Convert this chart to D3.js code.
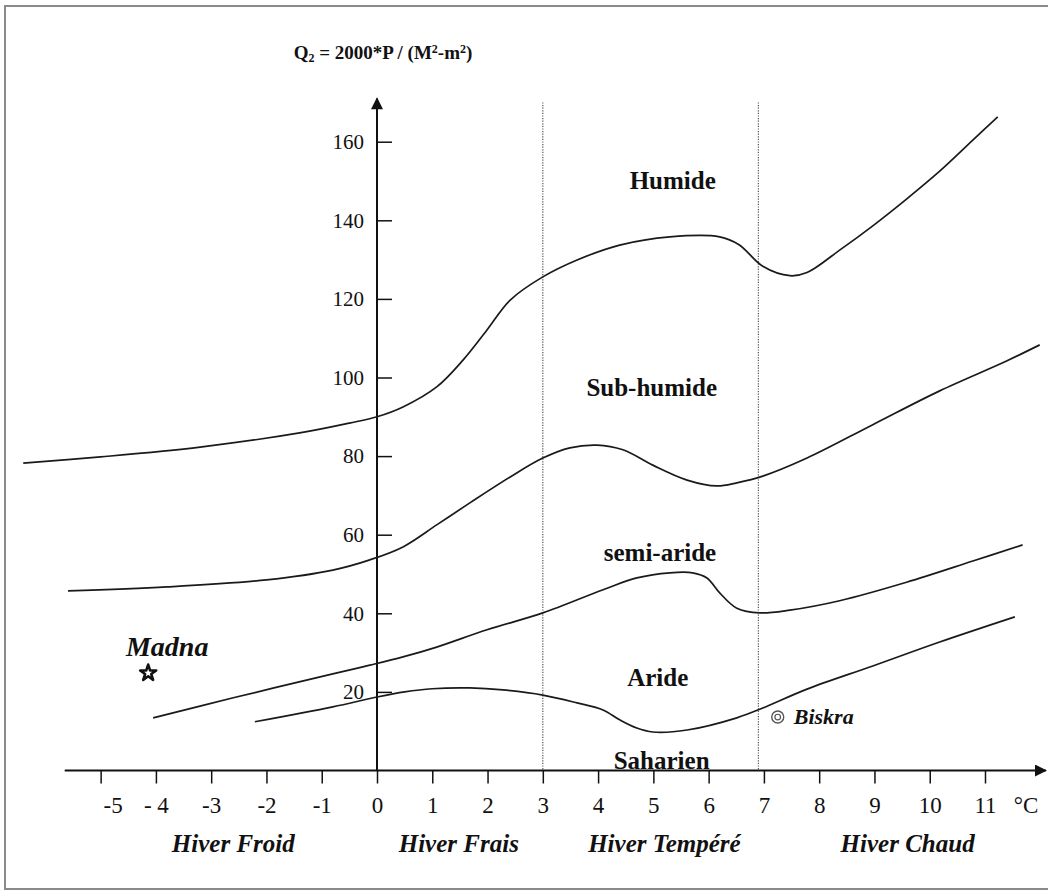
<!DOCTYPE html>
<html>
<head>
<meta charset="utf-8">
<script src="https://cdn.jsdelivr.net/npm/d3@7"></script>
<style>
  body { margin: 0; background: #fff; }
  svg { display: block; }
  text { font-family: "Liberation Serif", "Times New Roman", serif; fill: #111; }
</style>
</head>
<body>
<svg id="chart" width="1048" height="892"></svg>
<script>
// Emberger climagram: Q2 against m (mean minimum of the coldest month, °C)

const xTickValues = [-5, -4, -3, -2, -1, 0, 1, 2, 3, 4, 5, 6, 7, 8, 9, 10, 11];
const xTickLabels = ["-5", "- 4", "-3", "-2", "-1", "0", "1", "2", "3", "4", "5", "6", "7", "8", "9", "10", "11"];
const yTickValues = [20, 40, 60, 80, 100, 120, 140, 160];

// winter-type boundaries (dotted verticals)
const winterBounds = [3, 6.9];
const seasonNames = ["Hiver Froid", "Hiver Frais", "Hiver Tempéré", "Hiver Chaud"];
const seasonCenters = [-2.6, 1.48, 5.2, 9.6];

// bioclimatic stage boundaries: [m (°C), Q2]
const humideLimit = [
  [-6.4, 78.2], [-5.0, 79.8], [-3.2, 82.3], [-1.4, 85.9], [-0.5, 88.4], [0, 90.0],
  [0.47, 92.5], [1.08, 97.6], [1.56, 104.5], [1.99, 112.1], [2.41, 119.7], [3.0, 125.6],
  [3.62, 129.9], [4.39, 133.7], [5.3, 135.8], [6.2, 135.8], [6.55, 133.8], [6.98, 128.3],
  [7.47, 125.9], [7.78, 126.7], [8.37, 132.4], [8.97, 138.6], [9.58, 145.4], [10.18, 152.5],
  [10.78, 160.4], [11.23, 166.3]
];
const subHumideLimit = [
  [-5.59, 45.7], [-3.8, 46.7], [-2.0, 48.5], [-0.8, 51.0], [-0.13, 53.6], [0.47, 56.9],
  [1.08, 62.5], [1.68, 68.1], [2.41, 74.7], [3.0, 79.5], [3.49, 82.1], [3.98, 82.8],
  [4.45, 81.6], [4.99, 77.7], [5.61, 73.9], [6.15, 72.4], [6.51, 73.2], [6.98, 74.9],
  [7.78, 79.5], [8.97, 88.0], [10.18, 96.6], [11.39, 104.2], [11.99, 108.3]
];
const semiArideLimit = [
  [-4.05, 13.4], [-2.6, 18.5], [-0.8, 24.6], [-0.13, 26.8], [0.47, 28.9], [1.08, 31.4],
  [1.99, 35.8], [3.0, 40.1], [4.09, 46.0], [4.7, 49.0], [5.3, 50.3], [5.71, 50.3],
  [5.97, 49.0], [6.2, 45.2], [6.51, 41.3], [6.93, 40.1], [7.47, 40.8], [8.37, 43.2],
  [9.58, 47.9], [10.78, 53.3], [11.68, 57.4]
];
const arideLimit = [
  [-2.21, 12.4], [-0.8, 16.2], [0, 18.7], [0.5, 20.0], [1.0, 20.8], [1.68, 21.0], [2.28, 20.5],
  [3.0, 19.2], [3.62, 17.2], [4.09, 15.4], [4.39, 12.9], [4.7, 10.8], [4.99, 9.8],
  [5.61, 10.3], [6.51, 13.4], [6.98, 15.9], [7.78, 20.7], [8.97, 26.6], [10.18, 32.7],
  [11.54, 39.1]
];

const zoneNames = ["Humide", "Sub-humide", "semi-aride", "Aride", "Saharien"];
const zoneAnchors = [[5.35, 150.3], [4.97, 97.6], [5.12, 55.6], [5.08, 23.8], [5.15, 2.7]];

// stations
const stationNames = ["Madna", "Biskra"];
const stationPoints = [[-4.14, 24.8], [7.25, 13.6]];

const svg = d3.select("#chart");

const x = d3.scaleLinear().domain([0, 11]).range([377, 985]);
const y = d3.scaleLinear().domain([0, 160]).range([770.5, 141.7]);

// frame
svg.append("rect")
  .attr("x", 5).attr("y", 6).attr("width", 1060).attr("height", 883)
  .attr("fill", "none").attr("stroke", "#8a8a8a").attr("stroke-width", 2);

// dotted winter-type separators
svg.selectAll("line.bound").data(winterBounds).join("line")
  .attr("class", "bound")
  .attr("x1", d => x(d)).attr("x2", d => x(d))
  .attr("y1", y(170)).attr("y2", y(0))
  .attr("stroke", "#555").attr("stroke-width", 1.2)
  .attr("stroke-dasharray", "1.2,1.4");

// arrow heads
const defs = svg.append("defs");
defs.append("marker")
  .attr("id", "arrow").attr("viewBox", "0 0 10 10")
  .attr("refX", 9).attr("refY", 5)
  .attr("markerWidth", 7).attr("markerHeight", 6)
  .attr("markerUnits", "strokeWidth")
  .attr("orient", "auto")
  .append("path").attr("d", "M0,0 L10,5 L0,10 Z").attr("fill", "#111");

// x axis
const xAxisG = svg.append("g").attr("transform", `translate(0,${y(0)})`);
xAxisG.append("line")
  .attr("x1", x(-5.65)).attr("x2", x(12.1))
  .attr("y1", 0).attr("y2", 0)
  .attr("stroke", "#111").attr("stroke-width", 2)
  .attr("marker-end", "url(#arrow)");
const xAxis = d3.axisBottom(x)
  .tickValues(xTickValues)
  .tickFormat((d, i) => xTickLabels[i])
  .tickSize(13).tickPadding(13);
xAxisG.append("g").call(xAxis)
  .call(g => g.select(".domain").remove())
  .call(g => g.selectAll(".tick line").attr("stroke", "#111").attr("stroke-width", 1.5))
  .call(g => g.selectAll(".tick text")
    .attr("font-family", "Liberation Serif, serif")
    .attr("font-size", 23).attr("fill", "#111")
    .attr("dx", d => d === -5 ? 12 : 0));
xAxisG.append("text")
  .attr("x", 1026).attr("y", 42)
  .attr("text-anchor", "middle").attr("font-size", 23)
  .text("°C");

// y axis
const yAxisG = svg.append("g").attr("transform", `translate(${x(0)},0)`);
yAxisG.append("line")
  .attr("x1", 0).attr("x2", 0)
  .attr("y1", y(0)).attr("y2", y(171))
  .attr("stroke", "#111").attr("stroke-width", 2)
  .attr("marker-end", "url(#arrow)");
const yAxis = d3.axisRight(y).tickValues(yTickValues).tickSize(15).tickFormat(d3.format("d"));
yAxisG.append("g").call(yAxis)
  .call(g => g.select(".domain").remove())
  .call(g => g.selectAll(".tick line").attr("stroke", "#111").attr("stroke-width", 1.5))
  .call(g => g.selectAll(".tick text")
    .attr("x", -13).attr("text-anchor", "end")
    .attr("font-family", "Liberation Serif, serif")
    .attr("font-size", 21).attr("fill", "#111"));

// axis title
const title = svg.append("text")
  .attr("x", x(0) + 6).attr("y", 59)
  .attr("text-anchor", "middle")
  .attr("font-size", 19).attr("font-weight", "bold");
title.append("tspan").text("Q");
title.append("tspan").attr("font-size", 12).attr("dy", 3).text("2");
title.append("tspan").attr("dy", -3).text(" = 2000*P / (M");
title.append("tspan").attr("font-size", 12).attr("dy", -6).text("2");
title.append("tspan").attr("dy", 6).text("-m");
title.append("tspan").attr("font-size", 12).attr("dy", -6).text("2");
title.append("tspan").attr("dy", 6).text(")");

// stage boundary curves
const line = d3.line()
  .x(d => x(d[0])).y(d => y(d[1]))
  .curve(d3.curveCatmullRom.alpha(0.5));
svg.selectAll("path.limit")
  .data([humideLimit, subHumideLimit, semiArideLimit, arideLimit])
  .join("path")
  .attr("class", "limit")
  .attr("d", line)
  .attr("fill", "none").attr("stroke", "#1a1a1a").attr("stroke-width", 1.7);

// stage names
svg.selectAll("text.zone").data(zoneNames).join("text")
  .attr("class", "zone")
  .attr("x", (d, i) => x(zoneAnchors[i][0]))
  .attr("y", (d, i) => y(zoneAnchors[i][1]))
  .attr("dy", "0.35em")
  .attr("text-anchor", "middle")
  .attr("font-size", 25).attr("font-weight", "bold")
  .text(d => d);

// winter types
svg.selectAll("text.season").data(seasonNames).join("text")
  .attr("class", "season")
  .attr("x", (d, i) => x(seasonCenters[i]))
  .attr("y", 852)
  .attr("text-anchor", "middle")
  .attr("font-size", 25).attr("font-weight", "bold").attr("font-style", "italic")
  .text(d => d);

// Madna (star)
const star = d3.symbol().type(d3.symbolStar).size(80);
svg.append("path")
  .attr("d", star())
  .attr("transform", `translate(${x(stationPoints[0][0])},${y(stationPoints[0][1])})`)
  .attr("fill", "#fff").attr("stroke", "#111").attr("stroke-width", 2.6)
  .attr("stroke-linejoin", "round");
svg.append("text")
  .attr("x", x(stationPoints[0][0]) + 19).attr("y", y(stationPoints[0][1]) - 17)
  .attr("text-anchor", "middle")
  .attr("font-size", 28).attr("font-weight", "bold").attr("font-style", "italic")
  .text(stationNames[0]);

// Biskra (circled dot)
const bx = x(stationPoints[1][0]), by = y(stationPoints[1][1]);
svg.append("circle").attr("cx", bx).attr("cy", by).attr("r", 6)
  .attr("fill", "none").attr("stroke", "#555").attr("stroke-width", 1.4);
svg.append("circle").attr("cx", bx).attr("cy", by).attr("r", 2.8)
  .attr("fill", "none").attr("stroke", "#555").attr("stroke-width", 1.2);
svg.append("text")
  .attr("x", bx + 16).attr("y", by + 7)
  .attr("font-size", 22).attr("font-weight", "bold").attr("font-style", "italic")
  .text(stationNames[1]);
</script>
</body>
</html>
